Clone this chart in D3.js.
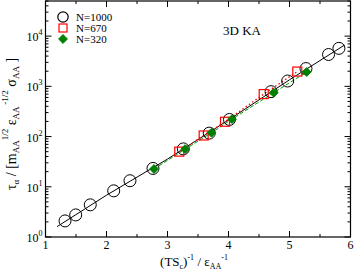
<!doctype html>
<html>
<head>
<meta charset="utf-8">
<script src="https://d3js.org/d3.v7.min.js"></script>
<style>
  body { margin: 0; background: #fff; }
  svg { font-family: "Liberation Serif", "Times New Roman", serif; }
</style>
</head>
<body>
<div id="chart"></div>
<script>
// data
var n1000X = [1.32, 1.495, 1.734, 2.118, 2.385, 2.762, 3.259, 3.684, 4.016, 4.697, 4.97, 5.27, 5.64, 5.81];
var n1000Y = [2.09, 2.75, 4.37, 8.3, 13.2, 23.2, 56.8, 117, 219, 783, 1276, 2259, 4300, 5700];
var n670X = [3.193, 3.593, 3.943, 4.577, 5.128];
var n670Y = [50.1, 105, 197, 701, 1968];
var n320X = [2.779, 3.29, 3.721, 4.057, 4.741, 5.282];
var n320Y = [22.6, 56.2, 119, 222, 748, 1932];
var fitX = [1.19, 2.0, 3.0, 4.0, 5.0, 5.9];
var fitY = [1.61, 6.8, 35.6, 214, 1350, 6600];
var xTicks = [1, 2, 3, 4, 5, 6];
var yTicks = [0, 1, 2, 3, 4];

var W = 354, H = 273;
var margin = {top: 1, right: 3.5, bottom: 36, left: 45.5};

var svg = d3.select("#chart").append("svg")
  .attr("width", W).attr("height", H);

var x = d3.scaleLinear().domain([1, 6]).range([margin.left, W - margin.right]);
var y = d3.scaleLog().domain([1, 5e4]).range([H - margin.bottom, margin.top]);

function zip(xs, ys) { return xs.map(function(v, i) { return {x: v, y: ys[i]}; }); }

var line = d3.line().x(function(d) { return x(d.x); }).y(function(d) { return y(d.y); });

// ticks (inward, on all four sides)
var g = svg.append("g").attr("stroke", "#000").attr("stroke-width", 1);
var minorX = d3.range(1.5, 6, 1);
var x0 = x.range()[0], x1 = x.range()[1], y0 = y.range()[0], y1 = y.range()[1];
xTicks.forEach(function(t) {
  g.append("line").attr("x1", x(t)).attr("x2", x(t)).attr("y1", y0).attr("y2", y0 - 6);
  g.append("line").attr("x1", x(t)).attr("x2", x(t)).attr("y1", y1).attr("y2", y1 + 6);
});
minorX.forEach(function(t) {
  g.append("line").attr("x1", x(t)).attr("x2", x(t)).attr("y1", y0).attr("y2", y0 - 3);
  g.append("line").attr("x1", x(t)).attr("x2", x(t)).attr("y1", y1).attr("y2", y1 + 3);
});
yTicks.forEach(function(e) {
  var v = Math.pow(10, e);
  g.append("line").attr("x1", x0).attr("x2", x0 + 6).attr("y1", y(v)).attr("y2", y(v));
  g.append("line").attr("x1", x1).attr("x2", x1 - 6).attr("y1", y(v)).attr("y2", y(v));
  for (var k = 2; k <= 9; k++) {
    var m = k * v;
    if (m > 5e4) break;
    g.append("line").attr("x1", x0).attr("x2", x0 + 3).attr("y1", y(m)).attr("y2", y(m));
    g.append("line").attr("x1", x1).attr("x2", x1 - 3).attr("y1", y(m)).attr("y2", y(m));
  }
});
svg.append("rect").attr("x", x0).attr("y", y1).attr("width", x1 - x0).attr("height", y0 - y1)
  .attr("fill", "none").attr("stroke", "#000").attr("stroke-width", 1.2);

// tick labels
xTicks.forEach(function(t) {
  svg.append("text").attr("x", x(t)).attr("y", y0 + 12).attr("text-anchor", "middle")
    .attr("font-size", 12).text(t);
});
yTicks.forEach(function(e) {
  var t = svg.append("text").attr("x", x0 - 3).attr("y", y(Math.pow(10, e)) + 5)
    .attr("text-anchor", "end").attr("font-size", 12);
  t.append("tspan").text("10");
  t.append("tspan").attr("font-size", 8).attr("dy", -6).text(e);
});

// lines
svg.append("path").datum(zip(fitX, fitY)).attr("d", line)
  .attr("fill", "none").attr("stroke", "#000").attr("stroke-width", 1);
svg.append("path").datum(zip(n670X, n670Y)).attr("d", line)
  .attr("fill", "none").attr("stroke", "#ff0000").attr("stroke-width", 1.3)
  .attr("stroke-dasharray", "1.5,2.5");
svg.append("path").datum(zip(n320X, n320Y)).attr("d", line)
  .attr("fill", "none").attr("stroke", "#00a000").attr("stroke-width", 1)
  .attr("stroke-dasharray", "4,2");

// markers
svg.append("g").selectAll("circle").data(zip(n1000X, n1000Y)).enter().append("circle")
  .attr("cx", function(d) { return x(d.x); }).attr("cy", function(d) { return y(d.y); })
  .attr("r", 6).attr("fill", "none").attr("stroke", "#000").attr("stroke-width", 1);
svg.append("g").selectAll("rect").data(zip(n670X, n670Y)).enter().append("rect")
  .attr("x", function(d) { return x(d.x) - 4.5; }).attr("y", function(d) { return y(d.y) - 4.5; })
  .attr("width", 9).attr("height", 9).attr("fill", "none").attr("stroke", "#ff0000").attr("stroke-width", 1.2);
var diamond = d3.symbol().type(d3.symbolDiamond2).size(50);
svg.append("g").selectAll("path").data(zip(n320X, n320Y)).enter().append("path")
  .attr("d", diamond)
  .attr("transform", function(d) { return "translate(" + x(d.x) + "," + y(d.y) + ")"; })
  .attr("fill", "#008000").attr("stroke", "#008000");

// legend
var lg = svg.append("g");
lg.append("circle").attr("cx", 63).attr("cy", 17).attr("r", 5.2)
  .attr("fill", "none").attr("stroke", "#000").attr("stroke-width", 1.2);
lg.append("rect").attr("x", 59).attr("y", 24).attr("width", 8).attr("height", 8)
  .attr("fill", "none").attr("stroke", "#ff0000").attr("stroke-width", 1.2);
lg.append("path").attr("d", diamond).attr("transform", "translate(63,39)")
  .attr("fill", "#008000").attr("stroke", "#008000");
["N=1000", "N=670", "N=320"].forEach(function(s, i) {
  lg.append("text").attr("x", 76).attr("y", 21 + i * 11).attr("font-size", 11).text(s);
});

svg.append("text").attr("x", 223).attr("y", 35).attr("font-size", 13).text("3D KA");

// axis titles
var xt = svg.append("text").attr("x", 194).attr("y", 266).attr("text-anchor", "middle").attr("font-size", 13);
xt.append("tspan").text("(TS");
xt.append("tspan").attr("font-size", 8).attr("dy", 3).text("c");
xt.append("tspan").attr("dy", -3).text(")");
xt.append("tspan").attr("font-size", 8).attr("dy", -6).text("-1");
xt.append("tspan").attr("dy", 6).text(" / \u03b5");
xt.append("tspan").attr("font-size", 8).attr("dy", 3).text("AA");
xt.append("tspan").attr("font-size", 8).attr("dy", -9).text("-1");

var yt = svg.append("text").attr("transform", "translate(16,124) rotate(-90)")
  .attr("text-anchor", "middle").attr("font-size", 14);
yt.append("tspan").text("\u03c4");
yt.append("tspan").attr("font-size", 9).attr("dy", 3).text("\u03b1");
yt.append("tspan").attr("dy", -3).text(" / [m");
yt.append("tspan").attr("font-size", 9).attr("dy", 3).text("AA");
yt.append("tspan").attr("font-size", 9).attr("dy", -11).text("1/2");
yt.append("tspan").attr("dy", 8).text(" \u03b5");
yt.append("tspan").attr("font-size", 9).attr("dy", 3).text("AA");
yt.append("tspan").attr("font-size", 9).attr("dy", -11).text(" -1/2");
yt.append("tspan").attr("dy", 8).text("  \u03c3");
yt.append("tspan").attr("font-size", 9).attr("dy", 3).text("AA");
yt.append("tspan").attr("dy", -3).text("  ]");
</script>
</body>
</html>
